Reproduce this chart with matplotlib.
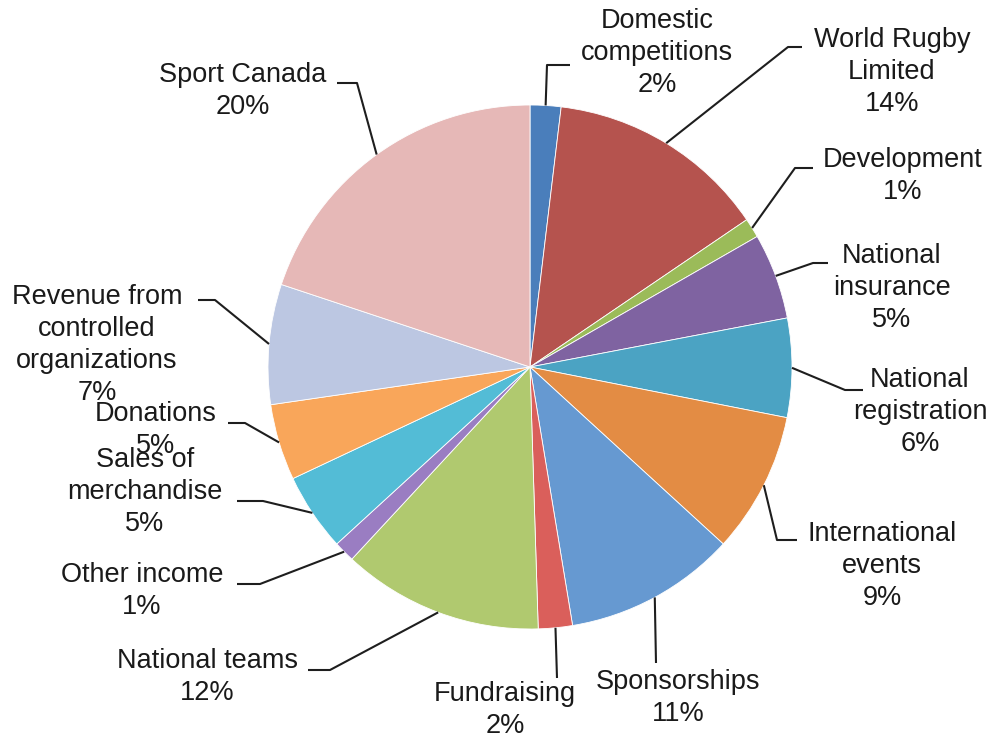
import numpy as np
import matplotlib.pyplot as plt

# revenue sources, clockwise from 12 o'clock (percent of total)
categories = [
    "Domestic\ncompetitions", "World Rugby\nLimited", "Development",
    "National\ninsurance", "National\nregistration", "International\nevents",
    "Sponsorships", "Fundraising", "National teams", "Other income",
    "Sales of\nmerchandise", "Donations", "Revenue from\ncontrolled\norganizations",
    "Sport Canada",
]
shares = [1.9, 13.6, 1.2, 5.3, 6.1, 8.7, 10.6, 2.1, 12.4, 1.3, 4.8, 4.7, 7.4, 19.9]

colors = ["#4a7ebb", "#b5534e", "#9bbb59", "#7f63a1", "#4ba3c3", "#e38c44",
          "#6699d1", "#da5f5b", "#b0c96f", "#9a7dc2", "#53bcd6", "#f9a65a",
          "#bcc7e2", "#e6b8b7"]

W, H = 997, 743
CX, CY, R = 530, 367, 262

# label layout in pixel coords: text centre, leader elbow, leader end
text_xy = [(657, 53), (892, 72), (903, 176), (892, 288), (920, 412), (882, 566),
           (678, 698), (505, 710), (207, 677), (142, 591), (145, 492), (156, 430),
           (97, 345), (243, 91)]
elbow_xy = [(547, 65), (788, 47), (795, 168), (813, 263), (845, 390), (777, 540),
            (656, 663), (557, 678), (330, 670), (260, 584), (263, 501), (245, 423),
            (215, 300), (357, 83)]
end_xy = [(570, 65), (802, 47), (813, 168), (828, 263), (863, 390), (797, 540),
          (656, 663), (557, 678), (308, 670), (237, 584), (237, 501), (228, 423),
          (198, 300), (337, 83)]


def py(y):
    # picture rows -> data y (axis points up)
    return H - y


fig = plt.figure(figsize=(W / 100, H / 100), dpi=100)
ax = fig.add_axes([0, 0, 1, 1])

wedges, _ = ax.pie(shares, colors=colors, startangle=90, counterclock=False,
                   center=(CX, py(CY)), radius=R,
                   wedgeprops=dict(edgecolor="white", linewidth=0.6))

for w, name, v, t, e, d in zip(wedges, categories, shares, text_xy, elbow_xy, end_xy):
    ang = np.deg2rad((w.theta1 + w.theta2) / 2)
    ax0 = CX + R * np.cos(ang)
    ay0 = py(CY) + R * np.sin(ang)
    ax.plot([ax0, e[0], d[0]], [ay0, py(e[1]), py(d[1])],
            color="#1e1e1e", lw=1.5, solid_capstyle="butt")
    ax.text(t[0], py(t[1]), f"{name}\n{round(v)}%", ha="center", va="center",
            fontsize=19.5, family="Liberation Sans", color="#1a1a1a",
            linespacing=1.3)

ax.set_xlim(0, W)
ax.set_ylim(0, H)
ax.set_aspect("equal")
ax.axis("off")

fig.savefig("out.png", dpi=100)
